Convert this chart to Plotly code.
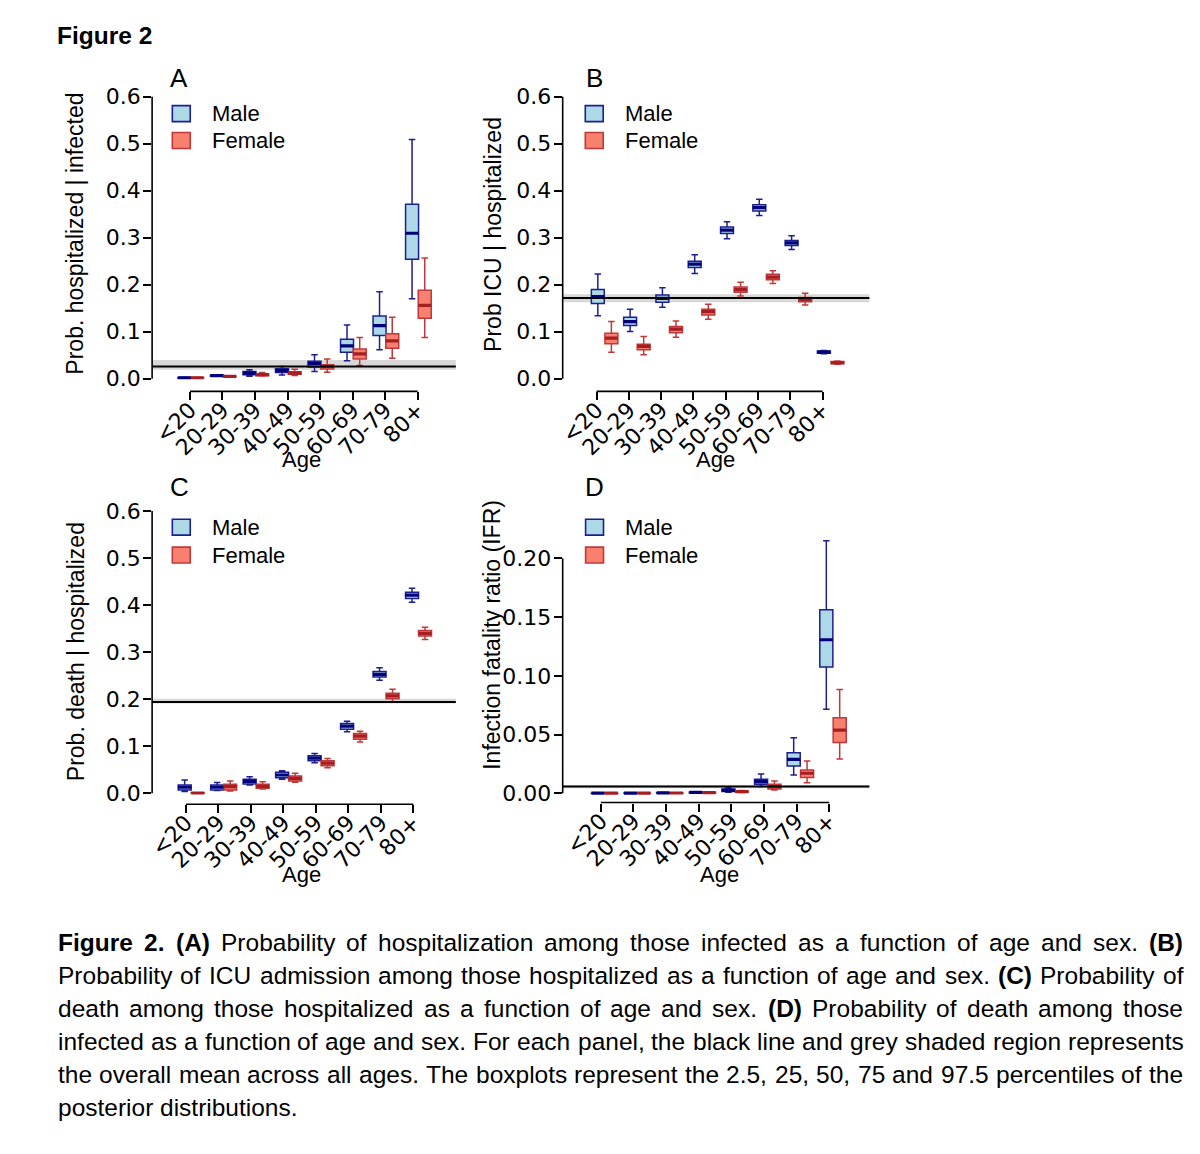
import plotly.graph_objects as go

# The page body has an 8px default margin; the figure is sized to fill the rest.
PAGE_W, PAGE_H, BODY_MARGIN = 1200, 1154, 8
W, H = PAGE_W - BODY_MARGIN, PAGE_H - BODY_MARGIN

age_groups = ["<20", "20-29", "30-39", "40-49", "50-59", "60-69", "70-79", "80+"]
tick_pos = [1, 2, 3, 4, 5, 6, 7, 8]

# ---------------- Panel A: Prob. hospitalized | infected ----------------
hosp_m_lo  = [0.001, 0.005, 0.005, 0.008, 0.0155, 0.038, 0.0615, 0.170]
hosp_m_q1  = [0.0015, 0.0055, 0.0085, 0.013, 0.0247, 0.0565, 0.092, 0.254]
hosp_m_med = [0.002, 0.0064, 0.012, 0.017, 0.032, 0.070, 0.113, 0.3095]
hosp_m_q3  = [0.0025, 0.0072, 0.0155, 0.021, 0.037, 0.084, 0.1336, 0.371]
hosp_m_hi  = [0.003, 0.008, 0.019, 0.026, 0.051, 0.1145, 0.185, 0.509]
hosp_f_lo  = [0.001, 0.004, 0.006, 0.007, 0.014, 0.028, 0.0438, 0.0876]
hosp_f_q1  = [0.0015, 0.0045, 0.0065, 0.0095, 0.0205, 0.042, 0.065, 0.1286]
hosp_f_med = [0.002, 0.005, 0.0085, 0.012, 0.026, 0.053, 0.0806, 0.156]
hosp_f_q3  = [0.0025, 0.0055, 0.0105, 0.015, 0.0297, 0.063, 0.0954, 0.188]
hosp_f_hi  = [0.003, 0.006, 0.013, 0.020, 0.042, 0.0876, 0.1307, 0.257]
hosp_mean, hosp_band = 0.026, (0.019, 0.040)

# ---------------- Panel B: Prob ICU | hospitalized ----------------
icu_m_lo  = [0.134, 0.1004, 0.152, 0.224, 0.298, 0.347, 0.275, 0.053]
icu_m_q1  = [0.160, 0.113, 0.1625, 0.2367, 0.309, 0.357, 0.2834, 0.054]
icu_m_med = [0.1746, 0.1216, 0.171, 0.2438, 0.316, 0.364, 0.289, 0.0565]
icu_m_q3  = [0.190, 0.1307, 0.178, 0.250, 0.323, 0.370, 0.294, 0.059]
icu_m_hi  = [0.2226, 0.1477, 0.1936, 0.2636, 0.334, 0.3816, 0.304, 0.060]
icu_f_lo  = [0.0565, 0.0509, 0.0883, 0.1265, 0.176, 0.2028, 0.157, 0.031]
icu_f_q1  = [0.0742, 0.0615, 0.098, 0.1357, 0.1837, 0.2106, 0.164, 0.0318]
icu_f_med = [0.0862, 0.0686, 0.1053, 0.1428, 0.1894, 0.2163, 0.169, 0.034]
icu_f_q3  = [0.0968, 0.0735, 0.111, 0.1477, 0.195, 0.222, 0.173, 0.0367]
icu_f_hi  = [0.1216, 0.0898, 0.123, 0.1583, 0.205, 0.2297, 0.1816, 0.0375]
icu_mean, icu_band = 0.1717, (0.1625, 0.1795)

# ---------------- Panel C: Prob. death | hospitalized ----------------
death_m_lo  = [0.0035, 0.0056, 0.0176, 0.0296, 0.065, 0.1306, 0.240, 0.406]
death_m_q1  = [0.007, 0.007, 0.0198, 0.033, 0.069, 0.136, 0.247, 0.414]
death_m_med = [0.0127, 0.0127, 0.0254, 0.0388, 0.0748, 0.1426, 0.2527, 0.421]
death_m_q3  = [0.0176, 0.0176, 0.030, 0.0445, 0.0798, 0.148, 0.259, 0.427]
death_m_hi  = [0.028, 0.023, 0.035, 0.048, 0.0847, 0.153, 0.2668, 0.4355]
death_f_lo  = [0.0001, 0.005, 0.009, 0.0233, 0.0543, 0.109, 0.194, 0.327]
death_f_q1  = [0.0003, 0.007, 0.0106, 0.026, 0.0586, 0.115, 0.201, 0.334]
death_f_med = [0.0005, 0.0141, 0.0148, 0.0318, 0.0642, 0.1214, 0.2068, 0.340]
death_f_q3  = [0.0008, 0.019, 0.019, 0.0367, 0.069, 0.127, 0.2125, 0.346]
death_f_hi  = [0.0012, 0.026, 0.0247, 0.0423, 0.074, 0.132, 0.221, 0.353]
death_mean, death_band = 0.194, (0.1906, 0.201)

# ---------------- Panel D: Infection fatality ratio (IFR) ----------------
ifr_m_lo  = [0.00002, 0.00005, 0.0001, 0.0003, 0.0008, 0.0057, 0.0156, 0.0716]
ifr_m_q1  = [0.00004, 0.00008, 0.0002, 0.0005, 0.0014, 0.0076, 0.0232, 0.1075]
ifr_m_med = [0.00005, 0.0001, 0.0003, 0.0007, 0.0025, 0.0099, 0.0289, 0.1307]
ifr_m_q3  = [0.00007, 0.00013, 0.0004, 0.0009, 0.0037, 0.0119, 0.0345, 0.1562]
ifr_m_hi  = [0.0001, 0.0002, 0.0006, 0.0012, 0.0048, 0.0164, 0.0472, 0.215]
ifr_f_lo  = [0.00001, 0.00004, 0.0001, 0.0002, 0.0006, 0.0028, 0.009, 0.0291]
ifr_f_q1  = [0.00002, 0.00006, 0.00015, 0.0004, 0.0010, 0.0037, 0.0133, 0.0433]
ifr_f_med = [0.00002, 0.00008, 0.0002, 0.0005, 0.0014, 0.0057, 0.017, 0.0537]
ifr_f_q3  = [0.00003, 0.0001, 0.00025, 0.0006, 0.0018, 0.0076, 0.0198, 0.0642]
ifr_f_hi  = [0.00005, 0.00015, 0.0004, 0.0009, 0.0024, 0.0105, 0.0274, 0.0883]
ifr_mean, ifr_band = 0.0057, (0.0042, 0.0070)

y_ticks_prob = [0.0, 0.1, 0.2, 0.3, 0.4, 0.5, 0.6]
y_ticks_ifr = [0.00, 0.05, 0.10, 0.15, 0.20]

# ---------------- styling ----------------
FONT = "Liberation Sans, Arial, Helvetica, sans-serif"
TICK_FONT = "DejaVu Sans, Liberation Sans, Arial, sans-serif"
MALE_FILL, MALE_LINE, MALE_MED = "#ADD8E6", "#1B1F8F", "#00007A"
FEM_FILL, FEM_LINE, FEM_MED = "#F8806F", "#C0383A", "#A61E22"
BOX_W = 0.4

def px_x(px):
    return (px - BODY_MARGIN) / W

def px_y(py):
    return 1 - (py - BODY_MARGIN) / H

panels = [
    dict(key="", name="A", xpx=(147.7, 452.7), ypx=(85, 391.7), xr=(-0.164, 9.176), yr=(-0.0269, 0.6233),
         off=(-0.17, 0.22), ytick=y_ticks_prob, yfmt=".1f",
         m=(hosp_m_lo, hosp_m_q1, hosp_m_med, hosp_m_q3, hosp_m_hi),
         f=(hosp_f_lo, hosp_f_q1, hosp_f_med, hosp_f_q3, hosp_f_hi),
         mean=hosp_mean, band=hosp_band, ytitle="Prob. hospitalized | infected",
         ytitle_pos=(70.7, 233), age_pos=(298, 460), letter_pos=(175, 77),
         leg_x=168, leg_y=(105, 132), leg_txt_x=206.7),
    dict(key="2", name="B", xpx=(560, 868), ypx=(85, 391.7), xr=(-0.048, 9.449), yr=(-0.0269, 0.6233),
         off=(0.04, 0.46), ytick=y_ticks_prob, yfmt=".1f",
         m=(icu_m_lo, icu_m_q1, icu_m_med, icu_m_q3, icu_m_hi),
         f=(icu_f_lo, icu_f_q1, icu_f_med, icu_f_q3, icu_f_hi),
         mean=icu_mean, band=icu_band, ytitle="Prob ICU | hospitalized",
         ytitle_pos=(490.7, 234), age_pos=(713, 460), letter_pos=(592, 77),
         leg_x=582.7, leg_y=(105, 132), leg_txt_x=621.7),
    dict(key="3", name="C", xpx=(147.7, 452.7), ypx=(500, 806), xr=(-0.043, 9.309), yr=(-0.0233, 0.6248),
         off=(-0.04, 0.36), ytick=y_ticks_prob, yfmt=".1f",
         m=(death_m_lo, death_m_q1, death_m_med, death_m_q3, death_m_hi),
         f=(death_f_lo, death_f_q1, death_f_med, death_f_q3, death_f_hi),
         mean=death_mean, band=death_band, ytitle="Prob. death | hospitalized",
         ytitle_pos=(70.7, 653), age_pos=(298, 877), letter_pos=(175, 488),
         leg_x=168, leg_y=(520, 548), leg_txt_x=206.7),
    dict(key="4", name="D", xpx=(560, 868), ypx=(500, 804.3), xr=(-0.169, 9.23), yr=(-0.0079, 0.2503),
         off=(-0.09, 0.32), ytick=y_ticks_ifr, yfmt=".2f",
         m=(ifr_m_lo, ifr_m_q1, ifr_m_med, ifr_m_q3, ifr_m_hi),
         f=(ifr_f_lo, ifr_f_q1, ifr_f_med, ifr_f_q3, ifr_f_hi),
         mean=ifr_mean, band=ifr_band, ytitle="Infection fatality ratio (IFR)",
         ytitle_pos=(489, 636), age_pos=(717, 877), letter_pos=(592, 488),
         leg_x=583, leg_y=(520, 548), leg_txt_x=621.7),
]

fig = go.Figure()
shapes = []
annotations = []
layout_axes = {}

for p in panels:
    k = p["key"]
    xa, ya = "x" + k, "y" + k
    xname, yname = "xaxis" + k, "yaxis" + k

    for stats, off, fill, line, med_col in [(p["m"], p["off"][0], MALE_FILL, MALE_LINE, MALE_MED),
                                            (p["f"], p["off"][1], FEM_FILL, FEM_LINE, FEM_MED)]:
        lo, q1, med, q3, hi = stats
        pos = [t + off for t in tick_pos]
        fig.add_trace(go.Box(
            x=pos, q1=q1, median=med, q3=q3, lowerfence=lo, upperfence=hi,
            width=BOX_W, whiskerwidth=0.5, fillcolor=fill,
            line=dict(color=line, width=1.5), boxpoints=False,
            xaxis=xa, yaxis=ya, showlegend=False, hoverinfo="skip"))
        mx, my = [], []
        for xp, mv in zip(pos, med):
            mx += [xp - BOX_W / 2, xp + BOX_W / 2, None]
            my += [mv, mv, None]
        fig.add_trace(go.Scatter(x=mx, y=my, mode="lines",
                                 line=dict(color=med_col, width=3.2),
                                 xaxis=xa, yaxis=ya, showlegend=False, hoverinfo="skip"))

    layout_axes[xname] = dict(
        domain=[px_x(p["xpx"][0]), px_x(p["xpx"][1])], range=list(p["xr"]),
        anchor=ya, tickvals=tick_pos, ticktext=age_groups, tickangle=-45,
        ticks="outside", ticklen=8, tickwidth=1.6, tickcolor="black",
        ticklabelstandoff=-12,
        showline=False, showgrid=False, zeroline=False,
        tickfont=dict(family=TICK_FONT, size=22, color="black"), fixedrange=True)
    layout_axes[yname] = dict(
        domain=[px_y(p["ypx"][1]), px_y(p["ypx"][0])], range=list(p["yr"]),
        anchor=xa, tickvals=p["ytick"], tickformat=p["yfmt"],
        ticks="outside", ticklen=8, tickwidth=1.6, tickcolor="black",
        ticklabelstandoff=-2,
        showline=False, showgrid=False, zeroline=False,
        tickfont=dict(family=TICK_FONT, size=22, color="black"), fixedrange=True)

    shapes.append(dict(type="rect", xref=xa + " domain", yref=ya, x0=0, x1=1,
                       y0=p["band"][0], y1=p["band"][1], fillcolor="#D8D8D8",
                       line=dict(width=0), layer="below"))
    shapes.append(dict(type="line", xref=xa + " domain", yref=ya, x0=0, x1=1,
                       y0=p["mean"], y1=p["mean"], line=dict(color="black", width=2)))
    shapes.append(dict(type="line", xref=xa + " domain", yref=ya, x0=0, x1=0,
                       y0=min(p["ytick"]), y1=max(p["ytick"]), line=dict(color="black", width=1.6)))
    shapes.append(dict(type="line", xref=xa, yref=ya + " domain", x0=min(tick_pos), x1=max(tick_pos),
                       y0=0, y1=0, line=dict(color="black", width=1.6)))

    for (fill, line, label), ly in zip([(MALE_FILL, MALE_LINE, "Male"), (FEM_FILL, FEM_LINE, "Female")], p["leg_y"]):
        shapes.append(dict(type="rect", xref="paper", yref="paper",
                           x0=px_x(p["leg_x"]), x1=px_x(p["leg_x"] + 18),
                           y0=px_y(ly + 16), y1=px_y(ly), fillcolor=fill,
                           line=dict(color=line, width=1.6)))
        annotations.append(dict(text=label, xref="paper", yref="paper",
                                x=px_x(p["leg_txt_x"]), y=px_y(ly + 8), xanchor="left", yanchor="middle",
                                showarrow=False, borderpad=0,
                                font=dict(family=FONT, size=22, color="black")))

    annotations.append(dict(text=p["ytitle"], xref="paper", yref="paper", textangle=-90,
                            x=px_x(p["ytitle_pos"][0]), y=px_y(p["ytitle_pos"][1]),
                            xanchor="center", yanchor="middle", showarrow=False,
                            font=dict(family=FONT, size=23, color="black")))
    annotations.append(dict(text="Age", xref="paper", yref="paper",
                            x=px_x(p["age_pos"][0]), y=px_y(p["age_pos"][1]),
                            xanchor="center", yanchor="middle", showarrow=False,
                            font=dict(family=FONT, size=22, color="black")))
    annotations.append(dict(text=p["name"], xref="paper", yref="paper",
                            x=px_x(p["letter_pos"][0]), y=px_y(p["letter_pos"][1]),
                            xanchor="center", yanchor="middle", showarrow=False,
                            font=dict(family=FONT, size=26, color="black")))

# ---------------- figure title + caption ----------------
annotations.append(dict(text="<b>Figure 2</b>", xref="paper", yref="paper",
                        x=px_x(51), y=px_y(35), xanchor="left", yanchor="middle",
                        showarrow=False, borderpad=0,
                        font=dict(family=FONT, size=24.5, color="black")))

caption_lines = [
    "Figure 2. (A) Probability of hospitalization among those infected as a function of age and sex. (B)",
    "Probability of ICU admission among those hospitalized as a function of age and sex. (C) Probability of",
    "death among those hospitalized as a function of age and sex. (D) Probability of death among those",
    "infected as a function of age and sex. For each panel, the black line and grey shaded region represents",
    "the overall mean across all ages. The boxplots represent the 2.5, 25, 50, 75 and 97.5 percentiles of the",
    "posterior distributions.",
]
bold_words = {"Figure", "2.", "(A)", "(B)", "(C)", "(D)"}

REG = {' ': 278, '(': 333, ')': 333, ',': 278, '-': 333, '.': 278, '|': 260, '+': 584,
       '0': 556, '1': 556, '2': 556, '3': 556, '4': 556, '5': 556, '6': 556, '7': 556, '8': 556, '9': 556,
       'A': 667, 'B': 667, 'C': 722, 'D': 722, 'E': 667, 'F': 611, 'G': 778, 'H': 722, 'I': 278,
       'J': 500, 'K': 667, 'L': 556, 'M': 833, 'N': 722, 'O': 778, 'P': 667, 'Q': 778, 'R': 722,
       'S': 667, 'T': 611, 'U': 722, 'V': 667, 'W': 944, 'X': 667, 'Y': 667, 'Z': 611,
       'a': 556, 'b': 556, 'c': 500, 'd': 556, 'e': 556, 'f': 278, 'g': 556, 'h': 556, 'i': 222,
       'j': 222, 'k': 500, 'l': 222, 'm': 833, 'n': 556, 'o': 556, 'p': 556, 'q': 556, 'r': 333,
       's': 500, 't': 278, 'u': 556, 'v': 500, 'w': 722, 'x': 500, 'y': 500, 'z': 500}
BOLD = dict(REG)
BOLD.update({'(': 333, ')': 333, 'A': 722, 'B': 722, 'C': 722, 'D': 722, 'F': 611, 'i': 278,
             'g': 611, 'u': 611, 'r': 389, 'e': 556, '2': 556, '.': 278})

CAP_SIZE = 24.5
CAP_LEFT, CAP_RIGHT = 52, 1182
CAP_Y0, CAP_DY = 945, 33

def wwidth(word, bold):
    tbl = BOLD if bold else REG
    return sum(tbl.get(c, 556) for c in word) / 1000 * CAP_SIZE

for li, line in enumerate(caption_lines):
    words = line.split(" ")
    widths = [wwidth(w, w in bold_words) for w in words]
    last = li == len(caption_lines) - 1
    if last or len(words) == 1:
        gap = REG[' '] / 1000 * CAP_SIZE
    else:
        gap = (CAP_RIGHT - CAP_LEFT - sum(widths)) / (len(words) - 1)
    xcur = CAP_LEFT
    for w, wd in zip(words, widths):
        txt = "<b>%s</b>" % w if w in bold_words else w
        annotations.append(dict(text=txt, xref="paper", yref="paper",
                                x=px_x(xcur), y=px_y(CAP_Y0 + li * CAP_DY),
                                xanchor="left", yanchor="middle", showarrow=False, borderpad=0,
                                font=dict(family=FONT, size=CAP_SIZE, color="black")))
        xcur += wd + gap

fig.update_layout(
    width=W, height=H, margin=dict(l=0, r=0, t=0, b=0),
    paper_bgcolor="white", plot_bgcolor="white",
    showlegend=False, boxmode="overlay",
    shapes=shapes, annotations=annotations,
    **layout_axes)

fig.write_html("out.html")
